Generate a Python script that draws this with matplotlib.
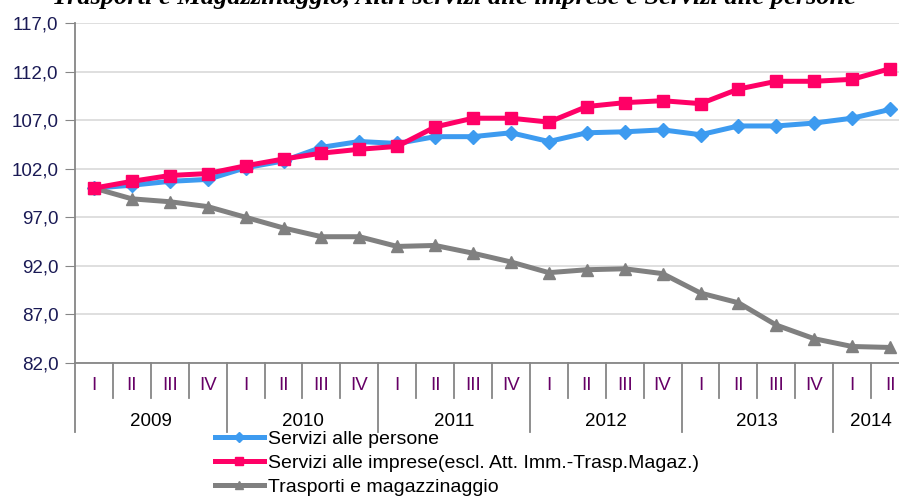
import numpy as np
import matplotlib
matplotlib.use("Agg")
from matplotlib import pyplot as plt

quarters = ["I", "II", "III", "IV"] * 5 + ["I", "II"]
years = ["2009", "2010", "2011", "2012", "2013", "2014"]
year_len = [4, 4, 4, 4, 4, 2]

persone = [100.0, 100.3, 100.7, 100.9, 102.1, 102.8, 104.2, 104.8, 104.6, 105.3, 105.3,
           105.7, 104.8, 105.7, 105.8, 106.0, 105.5, 106.4, 106.4, 106.7, 107.2, 108.1]
imprese = [100.0, 100.7, 101.3, 101.5, 102.3, 103.0, 103.6, 104.0, 104.3, 106.3, 107.2,
           107.2, 106.8, 108.4, 108.8, 109.0, 108.7, 110.2, 111.0, 111.0, 111.2, 112.3]
trasporti = [100.0, 98.9, 98.6, 98.1, 97.0, 95.9, 95.0, 95.0, 94.0, 94.1, 93.3,
             92.4, 91.3, 91.6, 91.7, 91.2, 89.2, 88.2, 85.9, 84.5, 83.7, 83.6]

yticks = [82, 87, 92, 97, 102, 107, 112, 117]

plt.rcParams["font.family"] = ["Liberation Sans", "DejaVu Sans"]

fig = plt.figure(figsize=(8.99, 4.97), dpi=100)
ax = fig.add_axes([75 / 899, 1 - 363 / 497, 834 / 899, 340 / 497])

x = np.arange(len(quarters))
ax.plot(x, persone, color="#3d9bf0", linewidth=3.6, marker="D", markersize=7,
        label="Servizi alle persone", zorder=3)
ax.plot(x, imprese, color="#ff0066", linewidth=3.6, marker="s", markersize=9,
        label="Servizi alle imprese(escl. Att. Imm.-Trasp.Magaz.)", zorder=4)
ax.plot(x, trasporti, color="#808080", linewidth=3.6, marker="^", markersize=9,
        label="Trasporti e magazzinaggio", zorder=3)

ax.set_xlim(-0.5, len(quarters) - 0.5)
ax.set_ylim(82, 117)
ax.set_yticks(yticks)
ax.set_yticklabels([f"{v:.1f}".replace(".", ",") for v in yticks],
                   fontsize=13.5, color="#1a1a55")
ax.tick_params(axis="y", direction="out", length=7, color="#868686", pad=5)
ax.yaxis.grid(True, color="#d9d9d9", linewidth=1.2)
ax.set_axisbelow(True)
ax.set_xticks([])

for s in ["top", "right"]:
    ax.spines[s].set_visible(False)
ax.spines["left"].set_color("#868686")
ax.spines["left"].set_linewidth(1.3)
ax.spines["bottom"].set_color("#868686")
ax.spines["bottom"].set_linewidth(1.3)

# category axis: quarters and years
tr = ax.get_xaxis_transform()
q_h = -35 / 340
y_h = -69 / 340
for i, q in enumerate(quarters):
    ax.text(i, -22 / 340, q, transform=tr, ha="center", va="center",
            fontsize=13.5, color="#660066")
start = 0
for yr, n in zip(years, year_len):
    ax.text(start + n / 2 - 0.5, -58 / 340, yr, transform=tr, ha="center",
            va="center", fontsize=13.5, color="black")
    start += n
year_bounds = np.cumsum([0] + year_len) - 0.5
for b in np.arange(0.5, len(quarters) - 0.5, 1.0):
    h = y_h if np.isclose(year_bounds, b).any() else q_h
    ax.plot([b, b], [0, h], transform=tr, color="#868686", linewidth=1.3,
            clip_on=False)
ax.plot([-0.5, -0.5], [0, y_h], transform=tr, color="#868686", linewidth=1.3,
        clip_on=False)

# title is cut off at the top edge, as in the source image
fig.text(0.505, 1 - 4 / 497,
         "Trasporti e Magazzinaggio, Altri servizi alle imprese e Servizi alle persone",
         ha="center", va="baseline", fontsize=19, fontweight="bold",
         fontstyle="italic", family="Liberation Serif")

ax.legend(loc="upper left", bbox_to_anchor=(215 / 899, 1 - 430 / 497),
          bbox_transform=fig.transFigure, frameon=False, fontsize=14,
          handlelength=2.5, handletextpad=0.25, labelspacing=0.33,
          borderpad=0, borderaxespad=0, markerscale=0.7)

fig.savefig("out.png", dpi=100)
